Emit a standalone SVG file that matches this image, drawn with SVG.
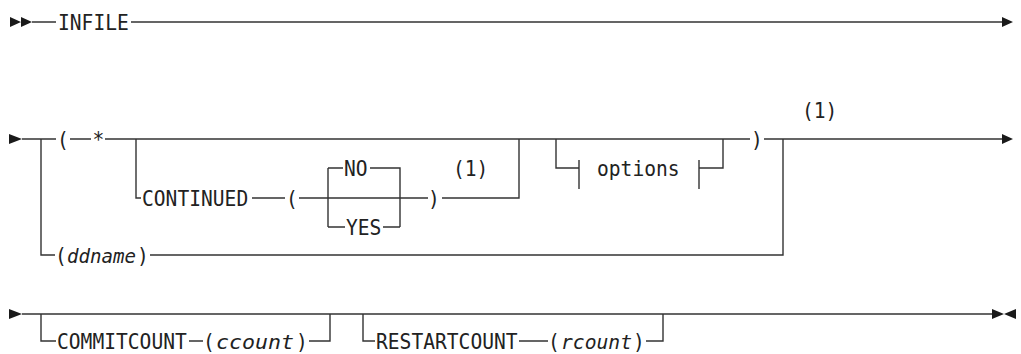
<svg xmlns="http://www.w3.org/2000/svg" width="1021" height="354" viewBox="0 0 1021 354">
<style>
.t{font-family:"DejaVu Sans Mono","Liberation Mono",monospace;font-size:21.5px;fill:#222}
.i{font-style:italic;font-size:19.5px}
.l{fill:none;stroke:#333;stroke-width:1.4}
.a{fill:#1a1a1a}
</style>
<rect width="1021" height="354" fill="#fff"/>
<g id="connectors">
<path class="l" d="M32 22H56M131 22H1002"/>
<path class="l" d="M22 139H56M70 139H91M105 139H750M764 139H1002"/>
<path class="l" d="M41 139V255H55M150 255H783V139"/>
<path class="l" d="M136 139V198H141M252 198H285M299 198H428M442 198H519V139"/>
<path class="l" d="M328 168V227M328 168H343M370 168H400V227M328 227H345M383 227H400"/>
<path class="l" d="M556 139V168H579M579 160V189M699 160V189M699 168H723V139"/>
<path class="l" d="M22 314H992M41 314V341H56M189 341H203M309 341H330V314M363 314V341H375M519 341H548M646 341H663V314"/>
<path class="a" d="M10 17L21 22L10 27ZM21 17L32 22L21 27ZM1002 17L1013 22L1002 27Z"/>
<path class="a" d="M9 134L22 139L9 144ZM1002 134L1013 139L1002 144Z"/>
<path class="a" d="M9 309L22 314L9 319ZM992 309L1004 314L992 319ZM1016 309L1004 314L1016 319Z"/>
</g>
<g id="infile"><text class="t" x="58" y="30" textLength="70.8" lengthAdjust="spacingAndGlyphs">INFILE</text></g>
<g id="lparen"><text class="t" x="57" y="147" textLength="11.8" lengthAdjust="spacingAndGlyphs">(</text></g>
<g id="star"><text class="t" x="92.6" y="147" textLength="11.8" lengthAdjust="spacingAndGlyphs">*</text></g>
<g id="continued"><text class="t" x="142" y="206" textLength="106.2" lengthAdjust="spacingAndGlyphs">CONTINUED</text></g>
<g id="cparen"><text class="t" x="286" y="206" textLength="11.8" lengthAdjust="spacingAndGlyphs">(</text></g>
<g id="no"><text class="t" x="344" y="176" textLength="23.6" lengthAdjust="spacingAndGlyphs">NO</text></g>
<g id="yes"><text class="t" x="346" y="235" textLength="35.4" lengthAdjust="spacingAndGlyphs">YES</text></g>
<g id="crparen"><text class="t" x="428" y="206" textLength="11.8" lengthAdjust="spacingAndGlyphs">)</text></g>
<g id="note1a"><text class="t" x="453" y="176" textLength="35.4" lengthAdjust="spacingAndGlyphs">(1)</text></g>
<g id="options"><text class="t" x="597" y="176" textLength="82.6" lengthAdjust="spacingAndGlyphs">options</text></g>
<g id="rparen"><text class="t" x="751" y="147" textLength="11.8" lengthAdjust="spacingAndGlyphs">)</text></g>
<g id="note1b"><text class="t" x="802" y="118" textLength="35.4" lengthAdjust="spacingAndGlyphs">(1)</text></g>
<g id="ddname">
<text class="t" x="55" y="263" textLength="11.8" lengthAdjust="spacingAndGlyphs">(</text>
<text class="t i" x="67" y="262.5" textLength="69" lengthAdjust="spacingAndGlyphs">ddname</text>
<text class="t" x="137" y="263" textLength="11.8" lengthAdjust="spacingAndGlyphs">)</text>
</g>
<g id="commitcount">
<text class="t" x="57" y="349" textLength="129.8" lengthAdjust="spacingAndGlyphs">COMMITCOUNT</text>
<text class="t" x="203" y="349" textLength="11.8" lengthAdjust="spacingAndGlyphs">(</text>
<text class="t i" x="216" y="348.5" textLength="78" lengthAdjust="spacingAndGlyphs">ccount</text>
<text class="t" x="296" y="349" textLength="11.8" lengthAdjust="spacingAndGlyphs">)</text>
</g>
<g id="restartcount">
<text class="t" x="376" y="349" textLength="141.6" lengthAdjust="spacingAndGlyphs">RESTARTCOUNT</text>
<text class="t" x="548" y="349" textLength="11.8" lengthAdjust="spacingAndGlyphs">(</text>
<text class="t i" x="561" y="348.5" textLength="71" lengthAdjust="spacingAndGlyphs">rcount</text>
<text class="t" x="633" y="349" textLength="11.8" lengthAdjust="spacingAndGlyphs">)</text>
</g>
</svg>
